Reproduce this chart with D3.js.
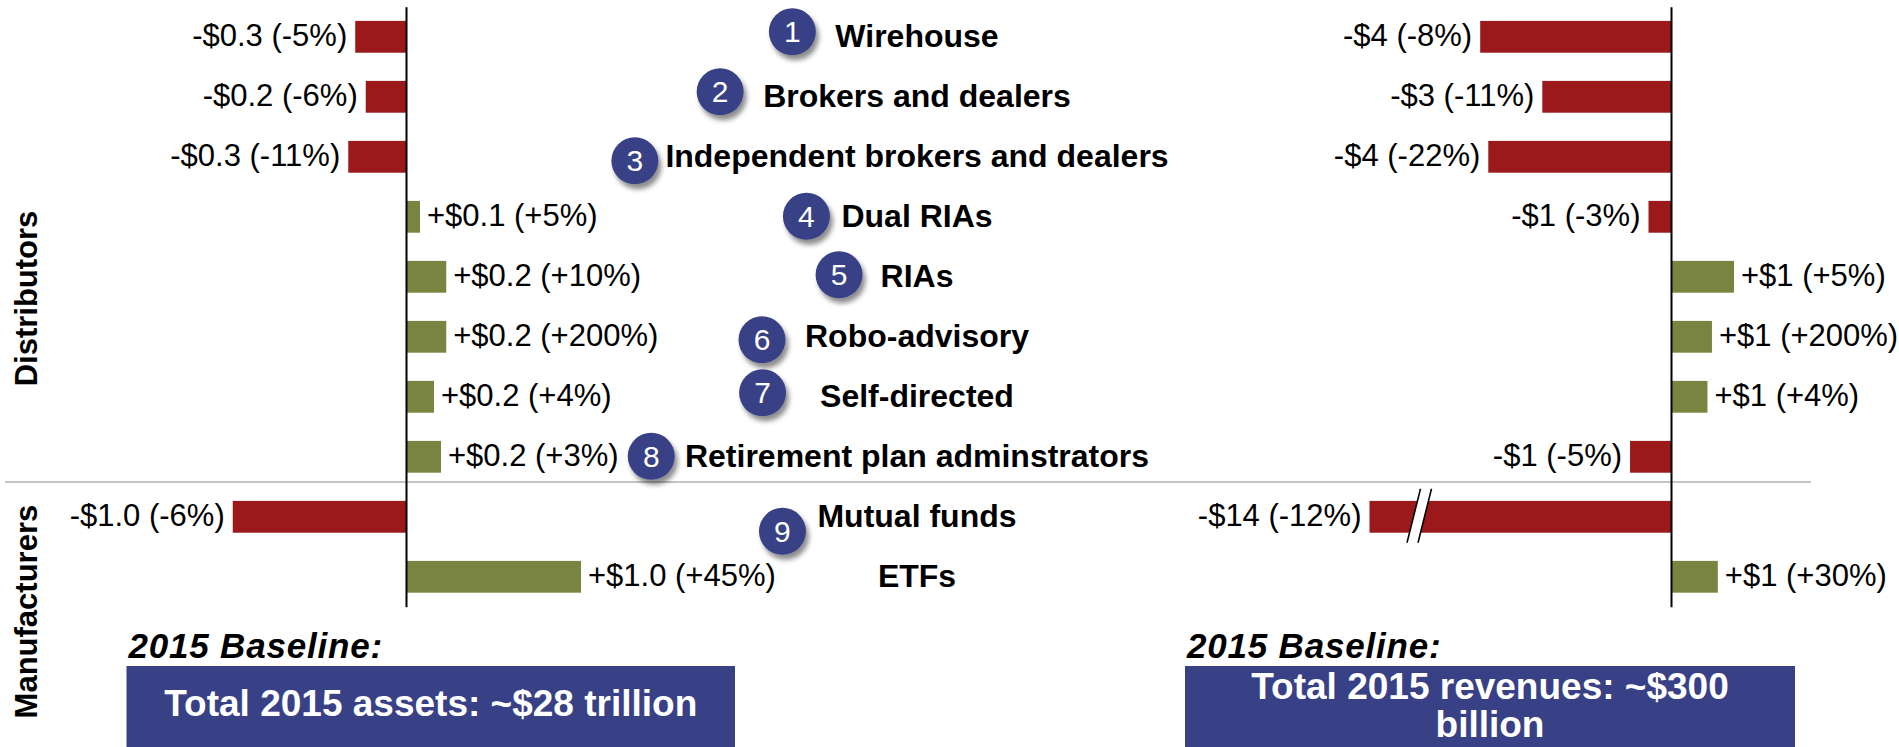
<!DOCTYPE html>
<html>
<head>
<meta charset="utf-8">
<script src="https://cdn.jsdelivr.net/npm/d3@7"></script>
<style>
  body { margin: 0; background: #fff; }
  text { font-family: "Liberation Sans", Arial, sans-serif; }
  .rotulo { font-size: 31px; fill: #000; }
  .categoria { font-size: 32px; font-weight: bold; fill: #000; }
  .grupo { font-size: 31px; font-weight: bold; fill: #000; }
</style>
</head>
<body>
<svg id="grafico"></svg>
<script>
// Categories (top to bottom)
var categorias = ['Wirehouse', 'Brokers and dealers', 'Independent brokers and dealers', 'Dual RIAs',
                  'RIAs', 'Robo-advisory', 'Self-directed', 'Retirement plan adminstrators',
                  'Mutual funds', 'ETFs'];

// Change in assets ($ trillion), bar lengths
var ativosValores = [-0.29, -0.23, -0.33, 0.08, 0.23, 0.23, 0.16, 0.2, -0.99, 1.0];
var ativosRotulos = ['-$0.3 (-5%)', '-$0.2 (-6%)', '-$0.3 (-11%)', '+$0.1 (+5%)', '+$0.2 (+10%)',
                     '+$0.2 (+200%)', '+$0.2 (+4%)', '+$0.2 (+3%)', '-$1.0 (-6%)', '+$1.0 (+45%)'];

// Change in revenues ($ billion)
var receitasValores = [-4.24, -2.86, -4.06, -0.5, 1.4, 0.91, 0.81, -0.91, -14, 1.04];
var receitasRotulos = ['-$4 (-8%)', '-$3 (-11%)', '-$4 (-22%)', '-$1 (-3%)', '+$1 (+5%)',
                       '+$1 (+200%)', '+$1 (+4%)', '-$1 (-5%)', '-$14 (-12%)', '+$1 (+30%)'];

// Numbered badges: which category label each one sits next to
var marcadores = ['1', '2', '3', '4', '5', '6', '7', '8', '9'];
var marcadoresCategoria = [0, 1, 2, 3, 4, 5, 6, 7, 8];

var grupos = ['Distributors', 'Manufacturers'];
var baseAtivos = 'Total 2015 assets: ~$28 trillion';
var baseReceitas = ['Total 2015 revenues: ~$300', 'billion'];

var largura = 1899, altura = 747;
var cores = { neg: '#9b191b', pos: '#7a8441', azul: '#384086' };

var svg = d3.select('#grafico')
            .attr('width', largura)
            .attr('height', altura);

// drop shadow for badges
var defs = svg.append('defs');
defs.append('filter')
    .attr('id', 'sombra')
    .attr('x', '-50%').attr('y', '-50%').attr('width', '200%').attr('height', '200%')
    .append('feDropShadow')
    .attr('dx', 3).attr('dy', 5)
    .attr('stdDeviation', 2.5)
    .attr('flood-color', '#000')
    .attr('flood-opacity', 0.45);

// Scales
var y = d3.scaleBand()
          .domain(categorias)
          .range([6.8, 606.8])
          .paddingInner(0.47)
          .paddingOuter(0.235);

var xAtivos = d3.scaleLinear()
                .domain([-1, 1])
                .range([231, 581]);

var xReceitas = d3.scaleLinear()
                  .domain([-6.7, 2.8])
                  .range([1369.5, 1797])
                  .clamp(true);

// Separator between distributors and manufacturers
svg.append('line')
   .attr('x1', 5).attr('x2', 1811)
   .attr('y1', y(categorias[8]) - 19).attr('y2', y(categorias[8]) - 19)
   .attr('stroke', '#c4c4c0')
   .attr('stroke-width', 2);

//---------------------------
// One panel of bars + value labels + zero axis
//---------------------------
function desenhePainel(x, valores, rotulos) {
    var dados = categorias.map(function(c, i) {
        return { chave: c, valor: valores[i], rotulo: rotulos[i] };
    });
    var painel = svg.append('g');

    painel.selectAll('.barra')
          .data(dados)
          .enter()
          .append('rect')
          .classed('barra', true)
          .attr('x', d => x(Math.min(0, d.valor)))
          .attr('y', d => y(d.chave))
          .attr('width', d => Math.abs(x(d.valor) - x(0)))
          .attr('height', y.bandwidth())
          .attr('fill', d => d.valor < 0 ? cores.neg : cores.pos);

    painel.selectAll('.rotulo')
          .data(dados)
          .enter()
          .append('text')
          .classed('rotulo', true)
          .attr('x', d => d.valor < 0 ? x(d.valor) - 8 : x(d.valor) + 7)
          .attr('y', d => y(d.chave) + y.bandwidth() / 2 + 9)
          .style('text-anchor', d => d.valor < 0 ? 'end' : 'start')
          .text(d => d.rotulo);

    var eixo = painel.append('g')
                     .attr('transform', 'translate(' + x(0) + ',0)')
                     .call(d3.axisLeft(y).tickSize(0).tickSizeOuter(0).tickFormat(''));
    eixo.select('.domain').attr('stroke', '#000').attr('stroke-width', 2);
    eixo.selectAll('.tick').remove();

    return painel;
}

desenhePainel(xAtivos, ativosValores, ativosRotulos);
var painelReceitas = desenhePainel(xReceitas, receitasValores, receitasRotulos);

// Axis break on the truncated mutual funds revenue bar
var corte = xReceitas.domain()[0] + 1.1;
var yCorte = y(categorias[8]) + y.bandwidth() / 2;
var xc = xReceitas(corte);
painelReceitas.append('polygon')
   .attr('points', [[xc + 1.5, yCorte - 28], [xc + 12.5, yCorte - 28], [xc - 1, yCorte + 26], [xc - 12, yCorte + 26]]
                   .map(p => p.join(',')).join(' '))
   .attr('fill', '#fff');
[0, 11].forEach(function(off) {
    painelReceitas.append('line')
       .attr('x1', xc + 1.5 + off).attr('y1', yCorte - 28)
       .attr('x2', xc - 12 + off).attr('y2', yCorte + 26)
       .attr('stroke', '#000')
       .attr('stroke-width', 1.6);
});

// Category labels in the middle
var rotCat = svg.selectAll('.categoria')
                .data(categorias)
                .enter()
                .append('text')
                .classed('categoria', true)
                .attr('x', 917)
                .attr('y', d => y(d) + y.bandwidth() / 2 + 10.5)
                .style('text-anchor', 'middle')
                .text(d => d);

// Badge nudges relative to the label's left edge / row centre
var marcadoresDx = [-43, -43, -30.5, -35, -41.5, -43, -57.5, -33.7, -35];
var marcadoresDy = [-5, -5, 4, -0.5, -2, 3, -4, -0.5, 14.5];

var nos = rotCat.nodes();
marcadores.forEach(function(m, i) {
    var c = marcadoresCategoria[i];
    var caixa = nos[c].getBBox();
    var cx = caixa.x + marcadoresDx[i];
    var cy = y(categorias[c]) + y.bandwidth() / 2 + marcadoresDy[i];
    var g = svg.append('g').attr('transform', 'translate(' + cx + ',' + cy + ')');
    g.append('circle')
     .attr('r', 23.5)
     .attr('fill', cores.azul)
     .attr('filter', 'url(#sombra)');
    g.append('text')
     .attr('y', 10.5)
     .style('text-anchor', 'middle')
     .style('font-size', '30px')
     .attr('fill', '#fff')
     .text(m);
});

// Group titles (vertical)
var gruposPos = [298.5, 611.6];
svg.selectAll('.grupo')
   .data(grupos)
   .enter()
   .append('text')
   .classed('grupo', true)
   .attr('transform', (d, i) => 'translate(37,' + gruposPos[i] + ') rotate(-90)')
   .style('text-anchor', 'middle')
   .text(d => d);

// Baseline boxes
function caixaBase(x0, x1, linhas, yLinhas) {
    svg.append('text')
       .attr('x', x0 + 2)
       .attr('y', 658)
       .style('font-size', '35px')
       .style('font-weight', 'bold')
       .style('font-style', 'italic')
       .style('letter-spacing', '0.8px')
       .text('2015 Baseline:');
    svg.append('rect')
       .attr('x', x0).attr('y', 666)
       .attr('width', x1 - x0).attr('height', altura - 666)
       .attr('fill', cores.azul);
    linhas.forEach(function(l, i) {
        svg.append('text')
           .attr('x', (x0 + x1) / 2)
           .attr('y', yLinhas[i])
           .style('text-anchor', 'middle')
           .style('font-size', '37px')
           .style('font-weight', 'bold')
           .attr('fill', '#fff')
           .text(l);
    });
}
caixaBase(126.5, 735, [baseAtivos], [716]);
caixaBase(1185, 1795, baseReceitas, [699, 737]);
</script>
</body>
</html>
